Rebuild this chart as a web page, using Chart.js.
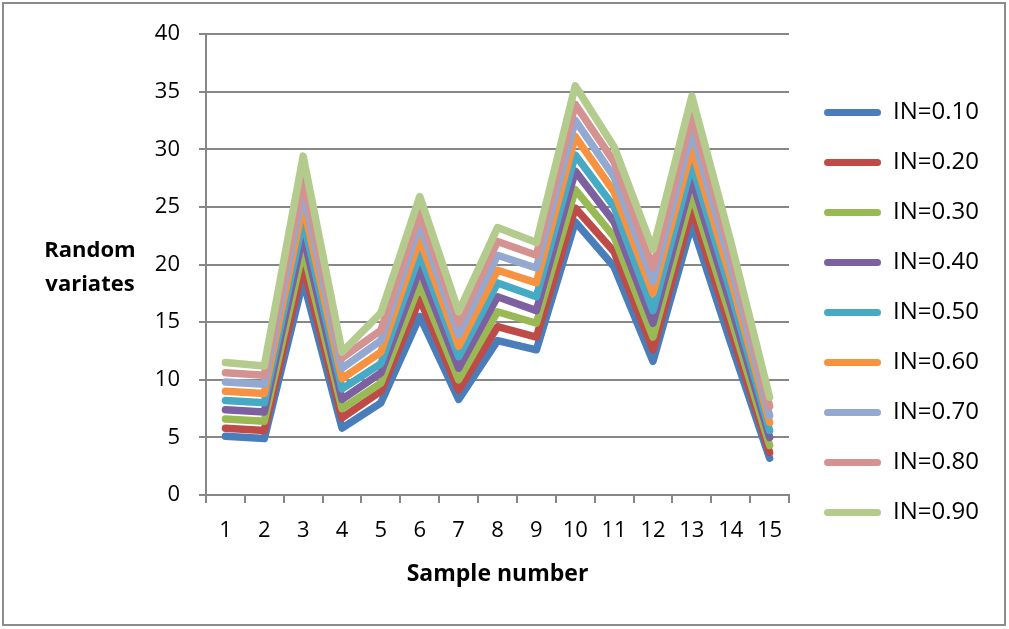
<!DOCTYPE html>
<html>
<head>
<meta charset="utf-8">
<script src="https://cdn.jsdelivr.net/npm/chart.js@4/dist/chart.umd.min.js"></script>
<style>
  html, body { margin: 0; padding: 0; background: #ffffff; }
  #wrap { position: relative; width: 1009px; height: 629px; }
</style>
</head>
<body>
<div id="wrap"><canvas id="c" width="1009" height="629"></canvas></div>
<script>
// ---- data ----
const categories = ['1','2','3','4','5','6','7','8','9','10','11','12','13','14','15'];
const seriesLabels = ['IN=0.10','IN=0.20','IN=0.30','IN=0.40','IN=0.50','IN=0.60','IN=0.70','IN=0.80','IN=0.90'];
const in010 = [5.1, 4.9, 18.6, 5.8, 8.0, 15.5, 8.3, 13.4, 12.6, 23.7, 19.8, 11.6, 23.5, 13.2, 3.2];
const in020 = [5.8, 5.6, 19.9, 6.7, 9.0, 17.0, 9.1, 14.6, 13.7, 24.9, 21.1, 12.6, 24.8, 14.3, 3.7];
const in030 = [6.6, 6.4, 21.3, 7.5, 9.7, 18.3, 10.0, 15.9, 14.9, 26.5, 22.4, 13.7, 26.1, 15.4, 4.3];
const in040 = [7.4, 7.2, 22.6, 8.3, 10.6, 19.6, 11.0, 17.2, 16.0, 28.1, 23.7, 14.9, 27.4, 16.5, 5.0];
const in050 = [8.2, 8.0, 23.9, 9.2, 11.4, 20.9, 12.0, 18.4, 17.2, 29.5, 25.0, 16.0, 28.7, 17.6, 5.6];
const in060 = [9.0, 8.8, 25.2, 10.1, 12.4, 22.2, 12.9, 19.5, 18.4, 31.1, 26.3, 17.5, 30.1, 18.8, 6.3];
const in070 = [9.8, 9.6, 26.4, 11.0, 13.4, 23.5, 13.9, 20.8, 19.7, 32.5, 27.6, 18.5, 31.6, 19.9, 6.9];
const in080 = [10.6, 10.4, 27.5, 11.9, 14.3, 24.5, 14.9, 22.0, 20.8, 33.9, 28.9, 19.7, 32.9, 21.0, 7.7];
const in090 = [11.5, 11.2, 29.4, 12.4, 15.8, 25.9, 15.9, 23.2, 21.9, 35.5, 30.2, 21.3, 34.6, 22.0, 8.5];
const yTicks = [0, 5, 10, 15, 20, 25, 30, 35, 40];
const seriesColors = ['#4A7EBB','#BE4B48','#98B954','#7D60A0','#46AAC5','#F69240','#93A9D1','#D49391','#B3CC8E'];
const yTitleLines = ['Random', 'variates'];
const xTitle = 'Sample number';

const allSeries = [in010, in020, in030, in040, in050, in060, in070, in080, in090];
const FONT = "'Open Sans', 'DejaVu Sans', sans-serif";
const GRID = '#878787';

const datasets = allSeries.map((vals, i) => ({
  label: seriesLabels[i],
  data: vals,
  borderColor: seriesColors[i],
  backgroundColor: seriesColors[i],
  borderWidth: 7.5,
  pointRadius: 0,
  pointHoverRadius: 0,
  tension: 0,
  borderJoinStyle: 'round',
  borderCapStyle: 'round',
  order: allSeries.length - 1 - i,
  yAxisID: 'y'
}));

const framePlugin = {
  id: 'frame',
  afterDraw(chart) {
    const ctx = chart.ctx;
    ctx.save();
    ctx.strokeStyle = '#8c8c8c';
    ctx.lineWidth = 2;
    ctx.strokeRect(3, 3, 1002, 622);
    ctx.fillStyle = '#000';
    ctx.font = "bold 22px " + FONT;
    ctx.textAlign = 'center';
    ctx.textBaseline = 'middle';
    ctx.fillText(yTitleLines[0], 90, 251);
    ctx.fillText(yTitleLines[1], 90, 285);
    ctx.restore();
  }
};

new Chart(document.getElementById('c'), {
  type: 'line',
  data: { labels: categories, datasets },
  plugins: [framePlugin],
  options: {
    responsive: false,
    animation: false,
    events: [],
    layout: { padding: { left: 146, top: 34, right: 20, bottom: 38 } },
    plugins: {
      tooltip: { enabled: false },
      title: { display: false },
      legend: {
        position: 'right',
        align: 'center',
        maxWidth: 260,
        labels: {
          boxWidth: 57,
          boxHeight: 7,
          padding: 26,
          color: '#000',
          font: { family: FONT, size: 24 },
          useBorderRadius: true,
          borderRadius: 3.5,
          sort: (a, b) => a.datasetIndex - b.datasetIndex,
          generateLabels: (chart) => Chart.defaults.plugins.legend.labels.generateLabels(chart)
            .map(l => Object.assign(l, { lineWidth: 0, strokeStyle: 'rgba(0,0,0,0)' }))
        }
      }
    },
    scales: {
      x: {
        type: 'category',
        offset: true,
        grid: { display: true, drawOnChartArea: false, drawTicks: true, tickLength: 8, color: GRID, lineWidth: 2, offset: true },
        border: { display: true, color: GRID, width: 2 },
        ticks: { color: '#000', font: { family: FONT, size: 22 }, padding: 15, maxRotation: 0, autoSkip: false },
        title: { display: true, text: xTitle, color: '#000', font: { family: FONT, size: 23, weight: 'bold' }, padding: { top: 0, bottom: 3 } },
        afterFit: (s) => { s.height = 96; }
      },
      y: {
        type: 'linear',
        position: 'left',
        min: 0,
        max: 40,
        afterBuildTicks: (s) => { s.ticks = yTicks.map(v => ({ value: v })); },
        grid: { color: GRID, lineWidth: 2, tickLength: 7, drawTicks: true },
        border: { display: true, color: GRID, width: 2 },
        ticks: { color: '#000', font: { family: FONT, size: 22 }, padding: 19 },
        afterFit: (s) => { s.width = 60; }
      },
      yR: {
        type: 'linear',
        position: 'right',
        display: true,
        grid: { display: false, drawTicks: false },
        border: { display: false },
        ticks: { display: false },
        afterFit: (s) => { s.width = 9; }
      }
    }
  }
});
</script>
</body>
</html>
